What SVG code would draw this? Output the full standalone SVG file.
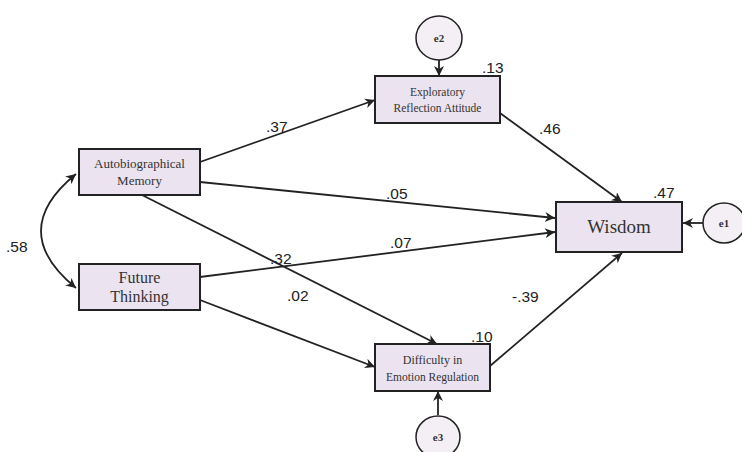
<svg xmlns="http://www.w3.org/2000/svg" width="742" height="452" viewBox="0 0 742 452">
<defs>
<marker id="ah" viewBox="0 0 10 10" refX="10" refY="5" markerWidth="10" markerHeight="10" markerUnits="userSpaceOnUse" orient="auto">
<path d="M0,0 L10,5 L0,10 L3,5 Z" fill="#222"/>
</marker>
<marker id="ahs" viewBox="0 0 10 10" refX="10" refY="5" markerWidth="10" markerHeight="10" markerUnits="userSpaceOnUse" orient="auto-start-reverse">
<path d="M0,0 L10,5 L0,10 L3,5 Z" fill="#222"/>
</marker>
</defs>
<style>
.box{fill:#ebe3f0;stroke:#222;stroke-width:2}
.circ{fill:#f3eff5;stroke:#222;stroke-width:1.5}
.lt{font-family:"Liberation Serif","Times New Roman",serif;fill:#333;text-anchor:middle}
.num{font-family:"Liberation Sans",Arial,sans-serif;font-size:15.5px;fill:#222}
.edge{stroke:#222;stroke-width:1.8;fill:none;marker-end:url(#ah)}
</style>
<rect width="742" height="452" fill="#ffffff"/>
<g id="connectors">
<path class="edge" d="M200,162 L375,100"/>
<path class="edge" d="M200,182 L555,218"/>
<path class="edge" d="M200,277 L555,232"/>
<path class="edge" d="M142,195 L437,344"/>
<path class="edge" d="M200,300 L375,367"/>
<path class="edge" d="M500,113 L622,202"/>
<path class="edge" d="M490,366 L622,253"/>
<path class="edge" d="M703,223 L683,223"/>
<path class="edge" d="M439,60 L439,76"/>
<path class="edge" d="M438,415 L438,391"/>
<path d="M76,174 Q6,231 76,288" fill="none" stroke="#222" stroke-width="1.8" marker-start="url(#ahs)" marker-end="url(#ah)"/>
<text class="num" x="266" y="132">.37</text>
<text class="num" x="386" y="199">.05</text>
<text class="num" x="390" y="248">.07</text>
<text class="num" x="270" y="264">.32</text>
<text class="num" x="287" y="301">.02</text>
<text class="num" x="539" y="134">.46</text>
<text class="num" x="512" y="302">-.39</text>
<text class="num" x="6" y="252">.58</text>
</g>
<g id="autobiographical-memory">
<rect class="box" x="79" y="149" width="121" height="46"/>
<text class="lt" x="139.5" y="168" font-size="13">Autobiographical</text>
<text class="lt" x="139.5" y="185" font-size="13">Memory</text>
</g>
<g id="future-thinking">
<rect class="box" x="79" y="264" width="121" height="46"/>
<text class="lt" x="139.5" y="283" font-size="16">Future</text>
<text class="lt" x="139.5" y="302" font-size="16">Thinking</text>
</g>
<g id="exploratory">
<rect class="box" x="375" y="76" width="125" height="47"/>
<text class="lt" x="437.5" y="96" font-size="11.5">Exploratory</text>
<text class="lt" x="437.5" y="112" font-size="11.5">Reflection  Attitude</text>
<text class="num" x="482" y="73">.13</text>
</g>
<g id="difficulty">
<rect class="box" x="375" y="344" width="115" height="47"/>
<text class="lt" x="432.5" y="364" font-size="12">Difficulty  in</text>
<text class="lt" x="432.5" y="381" font-size="11.5">Emotion Regulation</text>
<text class="num" x="471" y="342">.10</text>
</g>
<g id="wisdom">
<rect class="box" x="556" y="202" width="126" height="50"/>
<text class="lt" x="619" y="233" font-size="19">Wisdom</text>
<text class="num" x="653" y="198">.47</text>
</g>
<g id="e1">
<ellipse class="circ" cx="724" cy="223" rx="21" ry="20"/>
<text class="lt" x="724" y="227" font-size="11" font-weight="bold">e1</text>
</g>
<g id="e2">
<ellipse class="circ" cx="439" cy="38" rx="23" ry="22"/>
<text class="lt" x="439" y="42" font-size="11" font-weight="bold">e2</text>
</g>
<g id="e3">
<ellipse class="circ" cx="438" cy="437" rx="22" ry="21"/>
<text class="lt" x="438" y="441" font-size="11" font-weight="bold">e3</text>
</g>
</svg>
